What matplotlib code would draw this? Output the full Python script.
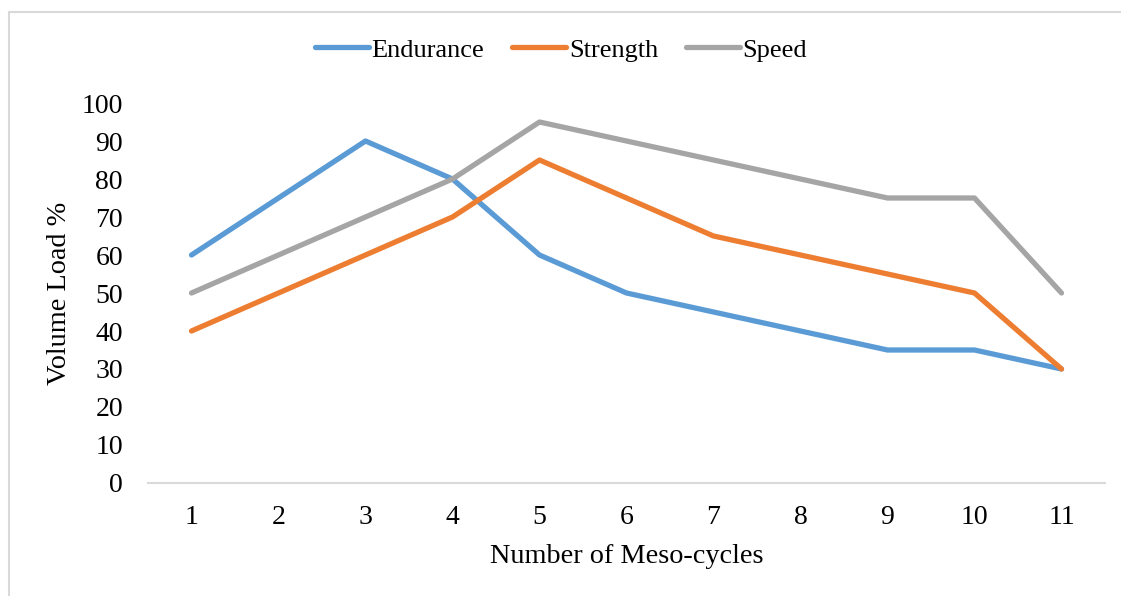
import matplotlib
matplotlib.use("Agg")
import matplotlib.pyplot as plt
from matplotlib.patches import Rectangle

cycles = ["1", "2", "3", "4", "5", "6", "7", "8", "9", "10", "11"]
endurance = [60, 75, 90, 80, 60, 50, 45, 40, 35, 35, 30]
strength = [40, 50, 60, 70, 85, 75, 65, 60, 55, 50, 30]
speed = [50, 60, 70, 80, 95, 90, 85, 80, 75, 75, 50]
yticks = [0, 10, 20, 30, 40, 50, 60, 70, 80, 90, 100]

plt.rcParams['font.family'] = ['Liberation Serif', 'DejaVu Serif']
FS_TICK = 20
FS_LAB = 20.3
FS_LEG = 19

W, H = 1121, 596
fig = plt.figure(figsize=(W / 100, H / 100), dpi=100)
fig.patch.set_facecolor('white')

# outer chart border (cropped on right/bottom)
fig.patches.append(Rectangle((9 / W, -0.1), 1.2, (H - 12) / H + 0.1,
                             transform=fig.transFigure, fill=False,
                             edgecolor='#d9d9d9', linewidth=1.5))

ax = fig.add_axes([148 / W, 1 - 483 / H, (1105 - 148) / W, (483 - 103) / H])
x = list(range(len(cycles)))
kw = dict(linewidth=3.8, solid_capstyle='round', solid_joinstyle='round')
ax.plot(x, endurance, color='#5B9BD5', label='Endurance', **kw)
ax.plot(x, strength, color='#ED7D31', label='Strength', **kw)
ax.plot(x, speed, color='#A5A5A5', label='Speed', **kw)

ax.set_xlim(-0.5, len(cycles) - 0.5)
ax.set_ylim(0, 100)
ax.set_xticks(x)
ax.set_xticklabels(cycles)
ax.set_yticks(yticks)
ax.set_yticklabels([str(v) for v in yticks])
ax.tick_params(axis='both', length=0, labelsize=FS_TICK)
ax.tick_params(axis='y', pad=18)
ax.tick_params(axis='x', pad=16)
for s in ['top', 'right', 'left']:
    ax.spines[s].set_visible(False)
ax.spines['bottom'].set_color('#d9d9d9')
ax.spines['bottom'].set_linewidth(1.5)
for ln in ax.lines:
    ln.set_clip_on(False)

ax.set_xlabel('Number of Meso-cycles', fontsize=FS_LAB, labelpad=10)
ax.set_ylabel('Volume Load %', fontsize=FS_LAB, labelpad=7)

fig.legend(loc='center', bbox_to_anchor=(561 / W, 1 - 50 / H), ncol=3,
           frameon=False, fontsize=FS_LEG, handlelength=2.05, handletextpad=0.1,
           columnspacing=1.05)

fig.savefig('out.png', dpi=100, facecolor='white')
